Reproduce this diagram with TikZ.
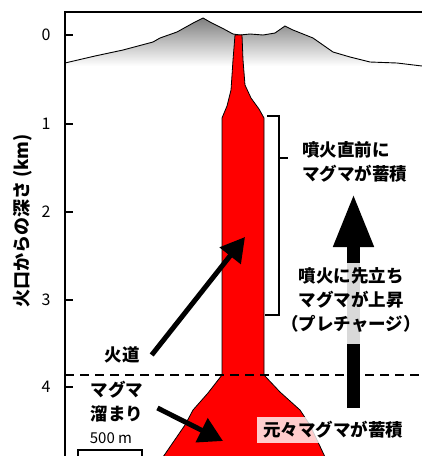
\documentclass[tikz,border=0pt]{standalone}
\usepackage{fontspec}
\setmainfont{Noto Sans CJK JP}
\usetikzlibrary{arrows.meta, positioning}
\tikzset{
	axisline/.style={line width=1.5pt},
	jtext/.style={font=\bfseries\fontsize{17.5}{24}\selectfont, inner sep=0pt},
	numtext/.style={font=\fontsize{16}{16}\selectfont, inner sep=0pt},
	pointer/.style={line width=5pt, -{Triangle[length=24pt,width=26pt]}},
}
\newcommand{\depthtick}[2]{
	\draw[axisline] (65,#1) -- (73,#1);
	\node[numtext] (d#2) at (46,#1) {#2};
}

\begin{document}
\begin{tikzpicture}[x=1pt,y=-1pt]
			\useasboundingbox (0,0) rectangle (422,456);
			% ground surface with shading
			\shade[top color=black!50, bottom color=white]
				(65,63) -- (95,56) -- (123,50) -- (153,42) -- (160,38) -- (177,32) -- (195,22) -- (203,18)
				-- (210,22) -- (222,28) -- (233,34) -- (240,35) -- (250,34) -- (263,35) -- (275,33) -- (285,26)
				-- (293,30) -- (313,38) -- (333,52) -- (350,57) -- (370,62) -- (397,63) -- (422,66) -- (65,66) -- cycle;
			\draw[line width=0.9pt]
				(65,63) -- (95,56) -- (123,50) -- (153,42) -- (160,38) -- (177,32) -- (195,22) -- (203,18)
				-- (210,22) -- (222,28) -- (233,34) -- (240,35) -- (250,34) -- (263,35) -- (275,33) -- (285,26)
				-- (293,30) -- (313,38) -- (333,52) -- (350,57) -- (370,62) -- (397,63) -- (422,66);
			% conduit and chamber
			\filldraw[fill=red, draw=black, line width=0.8pt]
				(235,35) -- (242,35) -- (243,60) -- (245,85) -- (251,98) -- (259,109) -- (264,118) -- (264,375)
				-- (280,392) -- (300,410) -- (310,425) -- (325,457) -- (163,457) -- (185,425) -- (193,410)
				-- (208,393) -- (222,375) -- (222,118) -- (227,106) -- (231,90) -- (233,60) -- cycle;
			\draw[line width=1.3pt, dash pattern=on 9pt off 6pt] (65,375) -- (422,375);
			% depth axis
			\draw[axisline] (65,457) -- (65,12) -- (422,12);
			\foreach \y/\d in {35/0,124/1,212/2,300/3,387/4}{
				\depthtick{\y}{\d}
			}
			\node[font=\bfseries\fontsize{18}{18}\selectfont, rotate=90, inner sep=0pt] (ylabel) at (23,221) {火口からの深さ (km)};
			% bracket beside the conduit
			\draw[axisline] (267,116) -| (279,315) -- (265,315);
			\draw[axisline] (279,158) -- (288,158);
			\node[jtext, align=left, anchor=west] (chokuzen) at (302,162) {噴火直前に\\マグマが蓄積};
			% rising arrow
			\coordinate (up base) at (353.5,408);
			\coordinate (up tip) at (353.5,193);
			\draw[line width=13pt, -{Triangle[length=54pt,width=37pt]}] (up base) -- (up tip);
			\fill[black!15] (347,263) rectangle (360,344);
			\node[jtext, align=center] (precharge) at (351,300) {噴火に先立ち\\マグマが上昇\\（プレチャージ）};
			% labels on the left
			\node[jtext] (kadou) at (122,355) {火道};
			\coordinate (kadou tip) at (245,237);
			\draw[pointer] ([xshift=12pt]kadou.east) -- (kadou tip);
			\node[jtext, align=center] (tamari) at (117,402) {マグマ\\溜まり};
			\coordinate (tamari tip) at (223,441);
			\draw[pointer] ([shift={(14,6)}]tamari.east) -- (tamari tip);
			% scale bar
			\node[font=\fontsize{15}{15}\selectfont, inner sep=0pt] (scalelbl) at (111,438) {500 m};
			\draw[line width=1.2pt] (78,457) |- (142,450) -- (142,457);
			\node[jtext, fill=white, fill opacity=0.8, text opacity=1, inner xsep=6pt, minimum height=26pt, anchor=west] (moto) at (257,430) {元々マグマが蓄積};
\end{tikzpicture}
\end{document}
